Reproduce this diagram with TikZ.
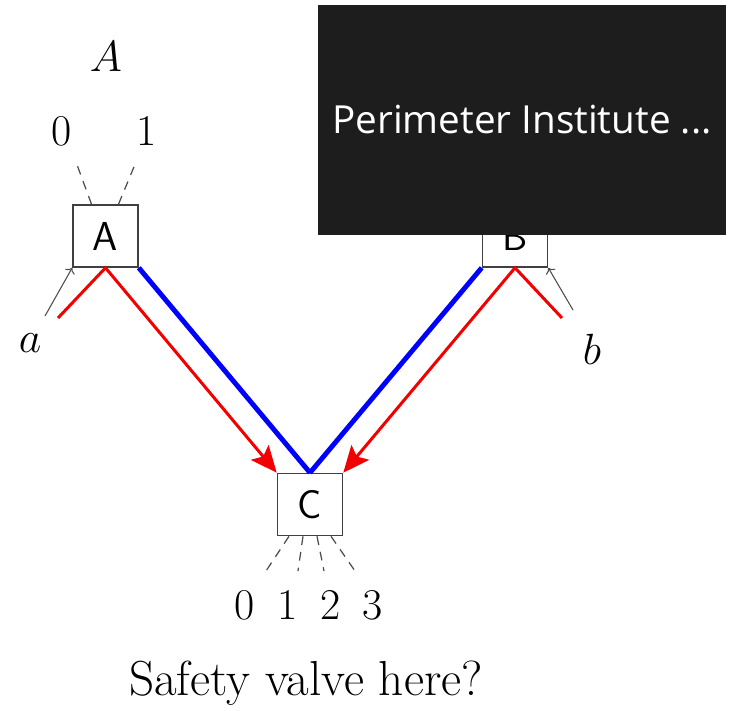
\documentclass[tikz,border=0pt]{standalone}
\usepackage{fontspec}
\newfontfamily\overlayfont{Open Sans}
\usetikzlibrary{arrows.meta,positioning,calc}
\tikzset{every picture/.style={line width=0.75pt}}
\definecolor{overlaygray}{HTML}{1C1D1C}
\tikzset{
  gatebox/.style={draw=black!75,line width=0.9pt,minimum width=1.3cm,minimum height=1.24cm,
    inner sep=0pt,font=\sffamily\fontsize{23}{26}\selectfont},
  bigtext/.style={font=\fontsize{25}{28}\selectfont,inner sep=0pt},
  wireblue/.style={blue,line width=2.8pt},
  wirered/.style={red!95!black,line width=1.7pt,line join=miter},
  inarrow/.style={->,black!70,line width=0.6pt},
  legdash/.style={black!70,line width=0.7pt,dash pattern=on 5pt off 4pt},
}

\begin{document}
\begin{tikzpicture}[x=0.02cm,y=-0.02cm]
    \fill[white] (0,0) rectangle (730,710);
    \useasboundingbox (0,0) rectangle (730,710);

    % Boxes
    \node[gatebox] (boxA) at (105.5,236) {A};
    \node[gatebox] (boxB) at (515,236) {B};
    \node[gatebox] (boxC) at (310,504.5) {C};

    % Labels
    \node[bigtext] (labA) at (106,57) {$A$};
    \node[bigtext] (outA0) at (62,131) {0};
    \node[bigtext] (outA1) at (147,131) {1};
    \node[bigtext] (la) at (30,343) {$a$};
    \node[bigtext] (lb) at (592,349) {$b$};
    \node[bigtext] (outC0) at (245,605) {0};
    \node[bigtext] (outC1) at (288,605) {1};
    \node[bigtext] (outC2) at (331,605) {2};
    \node[bigtext,font=\fontsize{28}{32}\selectfont] (question) at (306,683) {Safety valve here?};

    % Blue wires
    \draw[wireblue] (boxA.south east) -- (boxC.north);
    \draw[wireblue] (boxB.south west) -- (boxC.north);

    % Red paths
    \coordinate (redA) at (58,318);
    \coordinate (redB) at (562,318);
    \draw[wirered,-{Stealth[length=15pt,width=13pt,inset=3pt]}] (redA) -- (boxA.south) -- (boxC.north west);
    \draw[wirered,-{Stealth[length=15pt,width=13pt,inset=3pt]}] (redB) -- (boxB.south) -- (boxC.north east);

    % Inputs
    \coordinate (inA) at (45,316);
    \coordinate (inB) at (573,310);
    \draw[inarrow] (inA) -- (boxA.south west);
    \draw[inarrow] (inB) -- (boxB.south east);

    % Output legs of A
    \draw[legdash] ($(boxA.north)+(-14,0)$) -- (76,162);
    \draw[legdash] ($(boxA.north)+(13,0)$) -- (136,162);

    % Output legs of C
    \draw[legdash] ($(boxC.south)+(-21,0)$) -- (266,571);
    \draw[legdash] ($(boxC.south)+(-7,0)$) -- (298,571);
    \draw[legdash] ($(boxC.south)+(7,0)$) -- (324,571);
    \draw[legdash] ($(boxC.south)+(21,0)$) -- (355,571);
    \node[bigtext] (outC3) at (373,605) {3};

    % Overlay
    \fill[overlaygray] (318,5) rectangle (726,235);
    \node[white,font=\overlayfont\fontsize{22}{26}\selectfont] (caption) at (522,120) {Perimeter Institute ...};
\end{tikzpicture}
\end{document}
